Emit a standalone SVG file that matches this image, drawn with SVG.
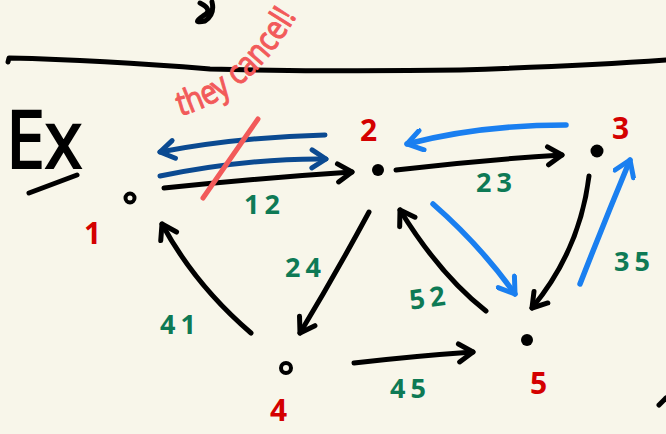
<svg xmlns="http://www.w3.org/2000/svg" width="666" height="434" viewBox="0 0 666 434">
<style>
.ink{fill:none;stroke:#000;stroke-width:5;stroke-linecap:round;stroke-linejoin:round}
.dk{fill:none;stroke:#0b4a91;stroke-width:5;stroke-linecap:round;stroke-linejoin:round}
.lb{fill:none;stroke:#1a7ff0;stroke-width:5.5;stroke-linecap:round;stroke-linejoin:round}
.nl{font-family:"Noto Sans",sans-serif;font-size:30px;fill:#d40000;font-weight:bold}
.el{font-family:"Noto Sans",sans-serif;font-size:27px;fill:#0e7a55;font-weight:bold;letter-spacing:5px}
.dot{fill:#000}
.ring{fill:#f8f6ea;stroke:#000;stroke-width:4}
</style>
<defs>
<marker id="ak" viewBox="0 0 24 24" refX="20" refY="12" markerWidth="24" markerHeight="24" markerUnits="userSpaceOnUse" orient="auto"><path d="M6,3 L20,12 L6,21" fill="none" stroke="#000" stroke-width="5" stroke-linecap="round" stroke-linejoin="round"/></marker>
<marker id="ad" viewBox="0 0 24 24" refX="20" refY="12" markerWidth="24" markerHeight="24" markerUnits="userSpaceOnUse" orient="auto"><path d="M6,3 L20,12 L6,21" fill="none" stroke="#0b4a91" stroke-width="5" stroke-linecap="round" stroke-linejoin="round"/></marker>
<marker id="al" viewBox="0 0 24 24" refX="20" refY="12" markerWidth="24" markerHeight="24" markerUnits="userSpaceOnUse" orient="auto"><path d="M5,2 L20,12 L5,22" fill="none" stroke="#1a7ff0" stroke-width="5" stroke-linecap="round" stroke-linejoin="round"/></marker>
<path id="redpath" d="M180,116 Q250,98 298,14"/>
</defs>
<rect width="666" height="434" fill="#f8f6ea"/>
<path class="ink" d="M200,3 Q214,10 203,16 Q191,24 205,21 Q215,14 212,2" stroke-width="6"/>
<path class="ink" d="M8,62 L9,58 Q100,60 210,69 Q330,72 460,70 Q580,66 666,60"/>
<text x="6" y="168" font-family="Noto Sans,sans-serif" font-size="80" fill="#000" stroke="#000" stroke-width="2" textLength="76" lengthAdjust="spacingAndGlyphs">Ex</text>
<path class="ink" d="M29,193 L77,175"/>
<g id="connectors">
<path class="ink" d="M164,188 Q260,178 352,172" marker-end="url(#ak)"/>
<path class="ink" d="M396,170 Q480,160 562,155" marker-end="url(#ak)"/>
<path class="ink" d="M369,212 Q335,275 300,333" marker-end="url(#ak)"/>
<path class="ink" d="M251,333 Q195,285 162,224" marker-end="url(#ak)"/>
<path class="ink" d="M354,363 Q415,356 473,352" marker-end="url(#ak)"/>
<path class="ink" d="M486,311 Q440,275 400,210" marker-end="url(#ak)"/>
<path class="ink" d="M589,176 Q580,250 532,308" marker-end="url(#ak)"/>
<path class="dk" d="M325,135 Q240,137 160,152" marker-end="url(#ad)"/>
<path class="dk" d="M160,176 Q250,158 326,159" marker-end="url(#ad)"/>
<path class="lb" d="M566,125 Q480,125 407,144" marker-end="url(#al)"/>
<path class="lb" d="M433,204 Q480,245 515,294" marker-end="url(#al)"/>
<path class="lb" d="M580,284 Q605,220 630,160" marker-end="url(#al)"/>
<path d="M203,198 L258,119" fill="none" stroke="#f25a5a" stroke-width="5" stroke-linecap="round"/>
<text font-family="Noto Sans,sans-serif" font-size="34" fill="#f25a5a" stroke="#f25a5a" stroke-width="1"><textPath href="#redpath" textLength="158" lengthAdjust="spacingAndGlyphs">they cancel!</textPath></text>
<text class="el" x="244" y="214">12</text>
<text class="el" x="476" y="192">23</text>
<text class="el" x="285" y="277">24</text>
<text class="el" x="160" y="334">41</text>
<text class="el" x="409" y="307" transform="rotate(-8 430 296)">52</text>
<text class="el" x="390" y="398">45</text>
<text class="el" x="614" y="271">35</text>
</g>
<g id="node1"><circle class="ring" cx="130" cy="198" r="4.5"/><text class="nl" x="84" y="244">1</text></g>
<g id="node2"><circle class="dot" cx="378" cy="170" r="6"/><text class="nl" x="360" y="141">2</text></g>
<g id="node3"><circle class="dot" cx="597" cy="151" r="6.5"/><text class="nl" x="612" y="139">3</text></g>
<g id="node4"><circle class="ring" cx="286" cy="368" r="5"/><text class="nl" x="270" y="421">4</text></g>
<g id="node5"><circle class="dot" cx="527" cy="340" r="6"/><text class="nl" x="530" y="394">5</text></g>
<path class="ink" d="M659,405 L666,398"/>
</svg>
